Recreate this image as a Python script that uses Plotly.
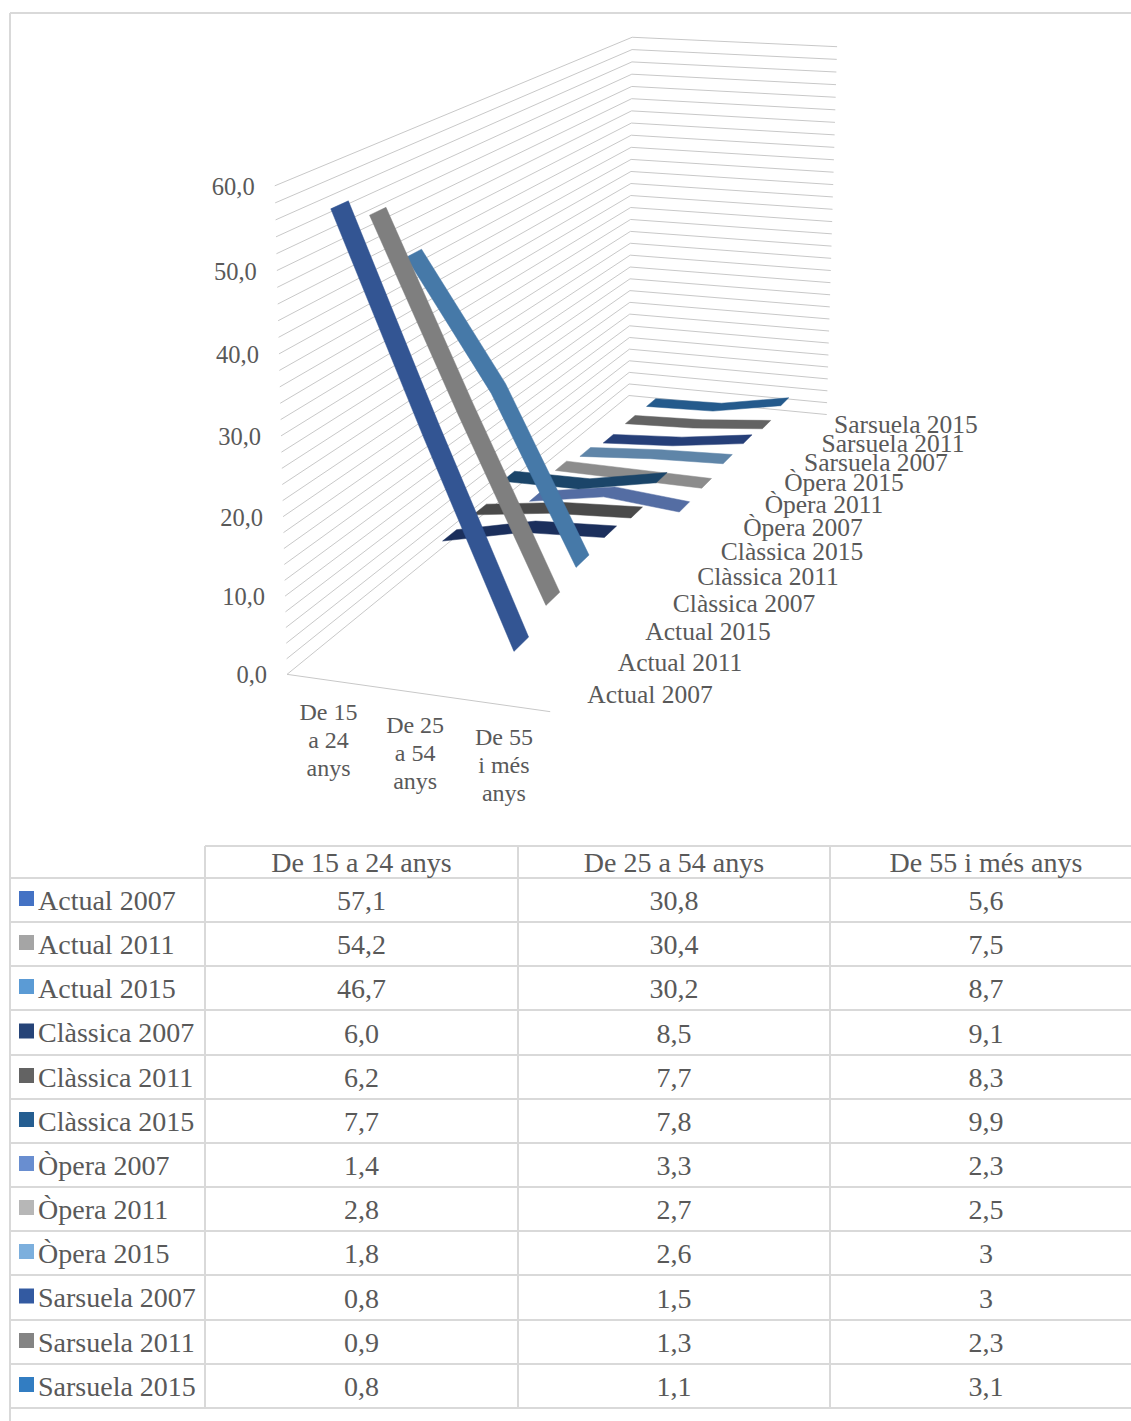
import numpy as np
import plotly.graph_objects as go

# ---- data ----
age_groups = ["De 15 a 24 anys", "De 25 a 54 anys", "De 55 i més anys"]
age_ticks = [["De 15", "a 24", "anys"], ["De 25", "a 54", "anys"], ["De 55", "i més", "anys"]]
series_names = [
    "Actual 2007", "Actual 2011", "Actual 2015",
    "Clàssica 2007", "Clàssica 2011", "Clàssica 2015",
    "Òpera 2007", "Òpera 2011", "Òpera 2015",
    "Sarsuela 2007", "Sarsuela 2011", "Sarsuela 2015",
]
young = [57.1, 54.2, 46.7, 6.0, 6.2, 7.7, 1.4, 2.8, 1.8, 0.8, 0.9, 0.8]
middle = [30.8, 30.4, 30.2, 8.5, 7.7, 7.8, 3.3, 2.7, 2.6, 1.5, 1.3, 1.1]
older = [5.6, 7.5, 8.7, 9.1, 8.3, 9.9, 2.3, 2.5, 3.0, 3.0, 2.3, 3.1]
value_ticks = [0, 10, 20, 30, 40, 50, 60]

ribbon_colors = ["#335593", "#7F7F7F", "#4679A8", "#1B2F5C", "#4A4A4A", "#1B4569",
                 "#546DA3", "#8C8C8C", "#5F85A8", "#263F78", "#636363", "#245A8C"]
key_colors = ["#4472C4", "#A5A5A5", "#5B9BD5", "#264478", "#636363", "#255E91",
              "#698ED0", "#B7B7B7", "#7CAFDD", "#335AA1", "#848484", "#327DC2"]

# ---- style ----
FONT = "Liberation Serif"
TEXT = "#595959"
GRID = "#C8C8C8"
RULE = "#D9D9D9"
VALUE_MAX = 60.0
RIBBON_DEPTH = 0.45

# Perspective of the chart box: unit cube corners and left-wall ticks on the page.
view_cube = [(0, 0, 0), (0, 1, 0), (0, 1, 1), (1, 1, 1), (1, 0, 0), (0, 0, 1), (1, 0, 1),
             (0, 5 / 6, 0), (0, 4 / 6, 0), (0, 3 / 6, 0), (0, 2 / 6, 0), (0, 1 / 6, 0)]
view_page = [(287, 673), (275, 185), (632, 37), (837, 47), (550, 712), (629, 396), (827, 414),
             (277, 271), (279, 354), (281, 436), (283, 517), (285, 597)]


def fit_camera(cube, page):
    rows = []
    for (x, y, z), (u, v) in zip(cube, page):
        p = [x, y, z, 1]
        rows.append(p + [0, 0, 0, 0] + [-u * c for c in p])
        rows.append([0, 0, 0, 0] + p + [-v * c for c in p])
    return np.linalg.svd(np.array(rows, float))[2][-1].reshape(3, 4)


CAMERA = fit_camera(view_cube, view_page)


def project(cat, value, depth):
    """Map category fraction, data value and depth fraction onto page coordinates."""
    h = CAMERA @ np.array([cat, value / VALUE_MAX, depth, 1.0])
    return h[0] / h[2], h[1] / h[2]


fig = go.Figure()

# Wall gridlines every 2 units, plus the floor edges.
gx, gy = [], []
for v in range(0, 62, 2):
    for c, d in [(0, 0), (0, 1), (1, 1)]:
        px, py = project(c, v, d)
        gx.append(px)
        gy.append(py)
    gx.append(None)
    gy.append(None)
for c, d in [(0, 0), (1, 0)]:
    px, py = project(c, 0, d)
    gx.append(px)
    gy.append(py)
fig.add_trace(go.Scatter(x=gx, y=gy, mode="lines", line=dict(color=GRID, width=1), hoverinfo="skip"))

# Ribbons, painted from the back row to the front row.
n_series = len(series_names)
cat_pos = [(i + 0.5) / len(age_groups) for i in range(len(age_groups))]
for i in reversed(range(n_series)):
    vals = [young[i], middle[i], older[i]]
    near = (i + 0.5 - RIBBON_DEPTH / 2) / n_series
    far = (i + 0.5 + RIBBON_DEPTH / 2) / n_series
    outline = [project(c, v, near) for c, v in zip(cat_pos, vals)] + \
              [project(c, v, far) for c, v in reversed(list(zip(cat_pos, vals)))]
    outline.append(outline[0])
    fig.add_trace(go.Scatter(
        x=[p[0] for p in outline], y=[p[1] for p in outline],
        mode="lines", fill="toself", fillcolor=ribbon_colors[i],
        line=dict(color=ribbon_colors[i], width=0.5), name=series_names[i], hoverinfo="name",
    ))

# Value axis labels.
tick_xy = [project(0, v, 0) for v in value_ticks]
fig.add_trace(go.Scatter(
    x=[p[0] - 20 for p in tick_xy], y=[p[1] + 3 for p in tick_xy], mode="text",
    text=[f"{v:.1f}".replace(".", ",") for v in value_ticks], textposition="middle left",
    textfont=dict(family=FONT, size=24.5, color=TEXT), hoverinfo="skip",
))

# Category axis labels, one text row per wrapped line.
LINE_STEP = 28
for cat, lines in zip(cat_pos, age_ticks):
    px, py = project(cat, 0, 0)
    fig.add_trace(go.Scatter(
        x=[px - 1] * len(lines), y=[py + 34 + k * LINE_STEP for k in range(len(lines))],
        mode="text", text=lines, textposition="middle center",
        textfont=dict(family=FONT, size=24, color=TEXT), hoverinfo="skip",
    ))

# Depth axis labels.
depth_label_x = [650, 680, 708, 744, 768, 792, 803, 824, 844, 876, 893, 906]
depth_label_y = [697, 665, 634, 606, 579, 554, 530, 507, 485, 465, 446, 427]
fig.add_trace(go.Scatter(
    x=depth_label_x, y=depth_label_y, mode="text", text=series_names, textposition="middle center",
    textfont=dict(family=FONT, size=25.5, color=TEXT), hoverinfo="skip",
))

# ---- data table ----
col_edges = [205, 518, 830, 1131]
row_edges = [878, 922, 966, 1010, 1055, 1099, 1143, 1187, 1231, 1275, 1320, 1364, 1408]
HEADER_TOP = 846
row_mid = [(a + b) / 2 for a, b in zip(row_edges[:-1], row_edges[1:])]
col_mid = [361.5, 674, 986]


def cell_text(v):
    # Whole-number entries of the last column are printed without decimals.
    return f"{v:.1f}".replace(".", ",")


older_labels = [cell_text(v) for v in older]
older_labels[8] = "3"
older_labels[9] = "3"
columns = [[cell_text(v) for v in young], [cell_text(v) for v in middle], older_labels]

fig.add_trace(go.Scatter(
    x=col_mid, y=[(HEADER_TOP + row_edges[0]) / 2 + 3] * 3, mode="text", text=age_groups,
    textposition="middle center", textfont=dict(family=FONT, size=28, color=TEXT), hoverinfo="skip",
))
for xm, labels in zip(col_mid, columns):
    fig.add_trace(go.Scatter(
        x=[xm] * n_series, y=[m + 3 for m in row_mid], mode="text", text=labels,
        textposition="middle center", textfont=dict(family=FONT, size=28, color=TEXT), hoverinfo="skip",
    ))
fig.add_trace(go.Scatter(
    x=[38] * n_series, y=[m + 2.6 for m in row_mid], mode="text", text=series_names,
    textposition="middle right", textfont=dict(family=FONT, size=28, color=TEXT), hoverinfo="skip",
))
fig.add_trace(go.Scatter(
    x=[26.5] * n_series, y=[m - 1.5 for m in row_mid], mode="markers",
    marker=dict(symbol="square", size=15, color=key_colors, line=dict(width=0)), hoverinfo="skip",
))

# Table rules and the outer frame.
rules = [dict(x0=10, x1=1131, y0=y, y1=y) for y in row_edges]
rules += [dict(x0=205, x1=1131, y0=HEADER_TOP, y1=HEADER_TOP)]
rules += [dict(x0=x, x1=x, y0=HEADER_TOP, y1=row_edges[-1]) for x in col_edges[:-1]]
rules += [dict(x0=10, x1=1131, y0=13, y1=13), dict(x0=10, x1=10, y0=13, y1=1421)]
shapes = [dict(type="line", xref="x", yref="y", line=dict(color=RULE, width=2), layer="below", **r) for r in rules]

fig.update_layout(
    width=1131, height=1421, autosize=False, margin=dict(l=0, r=0, t=0, b=0),
    paper_bgcolor="white", plot_bgcolor="white", showlegend=False, shapes=shapes,
    xaxis=dict(range=[0, 1131], visible=False, fixedrange=True),
    yaxis=dict(range=[1421, 0], visible=False, fixedrange=True),
)
fig.write_html("out.html")
